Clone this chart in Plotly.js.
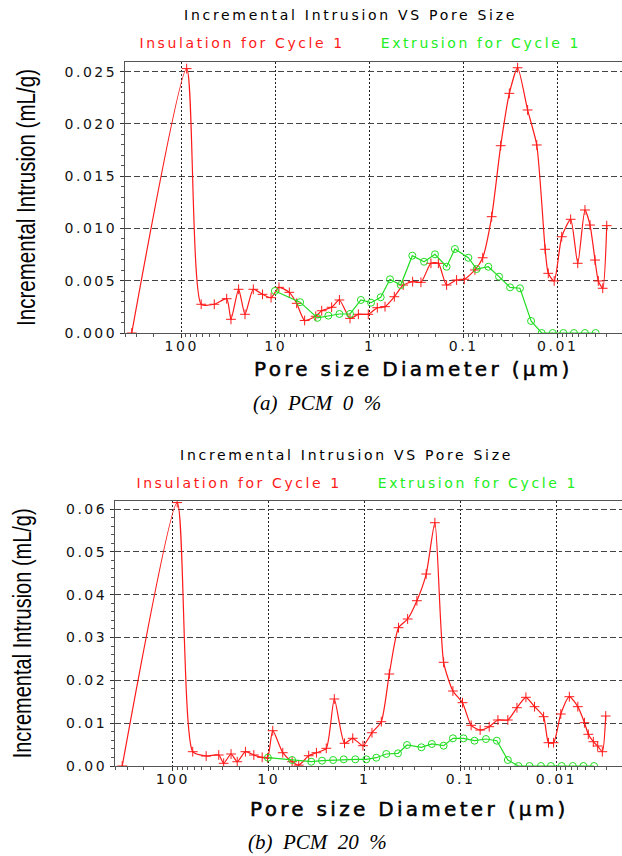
<!DOCTYPE html>
<html>
<head>
<meta charset="utf-8">
<script src="https://cdn.plot.ly/plotly-3.0.1.min.js"></script>
<style>
  html, body { margin: 0; padding: 0; background: #fff; }
  #chart { width: 622px; height: 856px; }
  g.xtick text, g.x2tick text, g.ytick text, g.y2tick text { letter-spacing: 2.5px; }
  g.annotation[data-index="0"] text, g.annotation[data-index="4"] text { letter-spacing: 2.7px; }
  g.annotation[data-index="1"] text, g.annotation[data-index="2"] text,
  g.annotation[data-index="5"] text, g.annotation[data-index="6"] text { letter-spacing: 2.6px; }
  g.annotation[data-index="8"] text, g.annotation[data-index="9"] text { letter-spacing: 3.3px; stroke: #000; stroke-width: 0.5px; }
</style>
</head>
<body>
<div id="chart"></div>
<script>
// ---------- (a) PCM 0 % ----------
const diamA_intrusion = [340, 88.5, 62, 45, 33.2, 29.9, 24.8, 21.2, 17.3, 13.8, 11.2, 9.23, 7.16, 5.98, 4.92, 3.75, 3.24, 2.54, 2.1, 1.62, 1.32, 1.035, 0.83, 0.687, 0.547, 0.44, 0.349, 0.285, 0.223, 0.186, 0.152, 0.119, 0.0986, 0.0759, 0.0628, 0.0504, 0.0404, 0.0327, 0.0267, 0.0209, 0.0167, 0.0136, 0.0126, 0.0109, 0.00906, 0.00728, 0.00612, 0.00513, 0.00453, 0.00401, 0.0037, 0.00332, 0.00301];
const incrA_intrusion = [0, 0.0253, 0.00275, 0.00275, 0.00328, 0.00131, 0.00418, 0.00179, 0.00418, 0.0037, 0.00338, 0.00437, 0.00389, 0.00284, 0.0012, 0.0016, 0.00213, 0.00246, 0.00316, 0.0014, 0.00179, 0.00179, 0.00242, 0.00252, 0.00347, 0.00459, 0.00491, 0.00485, 0.00667, 0.00667, 0.00459, 0.00507, 0.00514, 0.00603, 0.0072, 0.01113, 0.01792, 0.02293, 0.02538, 0.02134, 0.01799, 0.00801, 0.00571, 0.00498, 0.00921, 0.01088, 0.00667, 0.01177, 0.01033, 0.00698, 0.00498, 0.00428, 0.01027];
const diamA_extrusion = [10.2, 5.5, 3.6, 2.75, 2.1, 1.62, 1.24, 0.968, 0.764, 0.608, 0.468, 0.352, 0.264, 0.202, 0.152, 0.124, 0.0893, 0.0728, 0.0547, 0.0421, 0.0321, 0.0252, 0.0192, 0.0148, 0.0113, 0.0087, 0.00672, 0.00513, 0.00395];
const incrA_extrusion = [0.00402, 0.00295, 0.00145, 0.00166, 0.00182, 0.00182, 0.00316, 0.0029, 0.00342, 0.00514, 0.00459, 0.0074, 0.00682, 0.00753, 0.00634, 0.00804, 0.0072, 0.00612, 0.00634, 0.00539, 0.00437, 0.00428, 0.00115, 0, 0, 0, 0, 0, 0];

// ---------- (b) PCM 20 % ----------
const diamB_intrusion = [337, 90, 62, 44.9, 33.2, 29.5, 24.7, 21.3, 17.5, 14.3, 11.7, 10.3, 9.08, 7.14, 5.7, 4.87, 3.83, 3.18, 2.51, 2.07, 1.62, 1.33, 1.04, 0.838, 0.67, 0.553, 0.443, 0.356, 0.285, 0.228, 0.185, 0.15, 0.12, 0.0953, 0.0775, 0.0624, 0.0502, 0.0407, 0.0321, 0.0258, 0.0208, 0.0169, 0.0136, 0.0121, 0.0107, 0.009, 0.00733, 0.00598, 0.0051, 0.00465, 0.00412, 0.00371, 0.00332, 0.00306];
const incrB_intrusion = [0, 0.0615, 0.00334, 0.00233, 0.00257, 0.00063, 0.0028, 0.001, 0.00334, 0.00257, 0.00203, 0.0019, 0.00824, 0.0031, 0.001, 0.0002, 0.0024, 0.0031, 0.00413, 0.01564, 0.0053, 0.00647, 0.00474, 0.00777, 0.01034, 0.02148, 0.03229, 0.03432, 0.03859, 0.04482, 0.0568, 0.02421, 0.01751, 0.01478, 0.0095, 0.0084, 0.00918, 0.01074, 0.01074, 0.01361, 0.01604, 0.01385, 0.01151, 0.00544, 0.00544, 0.01214, 0.01618, 0.01385, 0.01011, 0.0074, 0.00567, 0.00467, 0.00334, 0.01167];
const diamB_extrusion = [10.2, 5.7, 3.6, 2.78, 2.13, 1.65, 1.25, 0.96, 0.755, 0.594, 0.449, 0.361, 0.256, 0.199, 0.15, 0.12, 0.0931, 0.0715, 0.0543, 0.0418, 0.0321, 0.0249, 0.0191, 0.0145, 0.0114, 0.0088, 0.00675, 0.00523, 0.00405];
const incrB_extrusion = [0.00194, 0.0014, 0.001, 0.00124, 0.0014, 0.00156, 0.00156, 0.00156, 0.00194, 0.0028, 0.00296, 0.0049, 0.00437, 0.00514, 0.00474, 0.00647, 0.00647, 0.00591, 0.0063, 0.00591, 0.0014, 0, 0, 0, 0, 0, 0, 0, 0];

// ---------- text ----------
const chartTitle = "Incremental Intrusion VS Pore Size";
const seriesNames = ["Insulation for Cycle 1", "Extrusion for Cycle 1"];
const xTitle = "Pore size Diameter (μm)";
const yTitle = "Incremental Intrusion (mL/g)";
const captions = ["(a)\u00a0\u00a0PCM\u00a0\u00a00\u00a0\u00a0%", "(b)\u00a0\u00a0PCM\u00a0\u00a020\u00a0\u00a0%"];
const xTickVals = [100, 10, 1, 0.1, 0.01];
const xTickText = ["100", "10", "1", "0.1", "0.01"];

const RED = "#ff1a1a", GREEN = "#22dd22";
const W = 622, H = 856;
const px = v => v / W, py = v => 1 - v / H;

const minorX = [];
for (let e = -3; e <= 2; e++) for (let k = 2; k <= 9; k++) minorX.push(k * Math.pow(10, e));

function redTrace(x, y, xa, ya) {
  return { x, y, xaxis: xa, yaxis: ya, type: "scatter", mode: "lines+markers", name: seriesNames[0],
    line: { color: RED, width: 1.2, shape: "spline", smoothing: 0.6 },
    marker: { symbol: "cross-thin-open", size: 7, line: { color: RED, width: 1 }, color: RED },
    cliponaxis: true };
}
function greenTrace(x, y, xa, ya) {
  return { x, y, xaxis: xa, yaxis: ya, type: "scatter", mode: "lines+markers", name: seriesNames[1],
    line: { color: GREEN, width: 1.2 },
    marker: { symbol: "circle-open", size: 7, line: { color: GREEN, width: 1 }, color: GREEN },
    cliponaxis: true };
}

const data = [
  redTrace(diamA_intrusion, incrA_intrusion, "x", "y"),
  greenTrace(diamA_extrusion, incrA_extrusion, "x", "y"),
  redTrace(diamB_intrusion, incrB_intrusion, "x2", "y2"),
  greenTrace(diamB_extrusion, incrB_extrusion, "x2", "y2")
];

const tickFont = { family: "DejaVu Sans", size: 14, color: "#111" };
function xAxis(domain, anchor) {
  return { type: "log", domain, anchor, range: [2.603, -2.684],
    tickmode: "array", tickvals: xTickVals, ticktext: xTickText,
    ticks: "outside", ticklen: 4, tickcolor: "#333", tickfont: tickFont, ticklabelstandoff: -4,
    showline: true, linecolor: "#555", linewidth: 1, mirror: true,
    showgrid: true, gridcolor: "#222", griddash: "2px,2px", gridwidth: 1,
    minor: { tickmode: "array", tickvals: minorX, ticks: "outside", ticklen: 3, tickcolor: "#555", showgrid: false },
    zeroline: false, fixedrange: true };
}
function yAxis(domain, anchor, top, dtick, minorD, fmt, titleSize, standoff) {
  return { domain, anchor, range: [0, top], dtick, tick0: 0, tickformat: fmt,
    ticks: "outside", ticklen: 4, tickcolor: "#333", tickfont: tickFont,
    showline: true, linecolor: "#555", linewidth: 1, mirror: false,
    showgrid: true, gridcolor: "#444", griddash: "6px,3px", gridwidth: 1,
    minor: { dtick: minorD, ticks: "outside", ticklen: 3, tickcolor: "#555", showgrid: false },
    zeroline: false, fixedrange: true,
    title: { text: yTitle, standoff,
      font: { family: "Liberation Sans", size: titleSize, color: "#000" } } };
}

function ann(text, x, y, font) {
  return { text, x: px(x), y: py(y), xref: "paper", yref: "paper", xanchor: "center", yanchor: "middle",
    showarrow: false, font };
}
const titleFont = { family: "DejaVu Sans", size: 14, color: "#000" };
const legRed = { family: "DejaVu Sans", size: 14, color: RED };
const legGreen = { family: "DejaVu Sans", size: 14, color: "#22ee22" };
const capFont = { family: "Liberation Serif", size: 21, color: "#000", style: "italic" };
const xtFont = { family: "DejaVu Sans", size: 20, color: "#000" };

const annotations = [
  ann(chartTitle, 350, 15, titleFont),
  ann(seriesNames[0], 242, 43, legRed),
  ann(seriesNames[1], 481, 43, legGreen),
  ann(captions[0], 317, 403, capFont),
  ann(chartTitle, 346.5, 455, titleFont),
  ann(seriesNames[0], 238.5, 483, legRed),
  ann(seriesNames[1], 477.5, 483, legGreen),
  ann(captions[1], 317, 842, capFont),
  ann(xTitle, 413, 369, xtFont),
  ann(xTitle, 409, 809, xtFont)
];

const layout = {
  width: W, height: H, margin: { l: 0, r: 0, t: 0, b: 0 },
  paper_bgcolor: "#fff", plot_bgcolor: "#fff", showlegend: false,
  xaxis: xAxis([125 / W, 1], "y"),
  yaxis: yAxis([py(333), py(62)], "x", 0.02593, 0.005, 0.001, ".3f", 25, 21),
  xaxis2: xAxis([115 / W, 1], "y2"),
  yaxis2: yAxis([py(766), py(500.7)], "x2", 0.06194, 0.01, 0.002, ".2f", 25, 27),
  annotations
};

Plotly.newPlot("chart", data, layout, { staticPlot: true, displayModeBar: false }).then(() => {
  // condense the y titles to the narrow face of the original
  const t1 = document.querySelector("text.ytitle");
  const t2 = document.querySelector("text.y2title");
  if (t1) { t1.setAttribute("textLength", "257"); t1.setAttribute("lengthAdjust", "spacingAndGlyphs"); }
  if (t2) { t2.setAttribute("textLength", "250"); t2.setAttribute("lengthAdjust", "spacingAndGlyphs"); }
});
</script>
</body>
</html>
